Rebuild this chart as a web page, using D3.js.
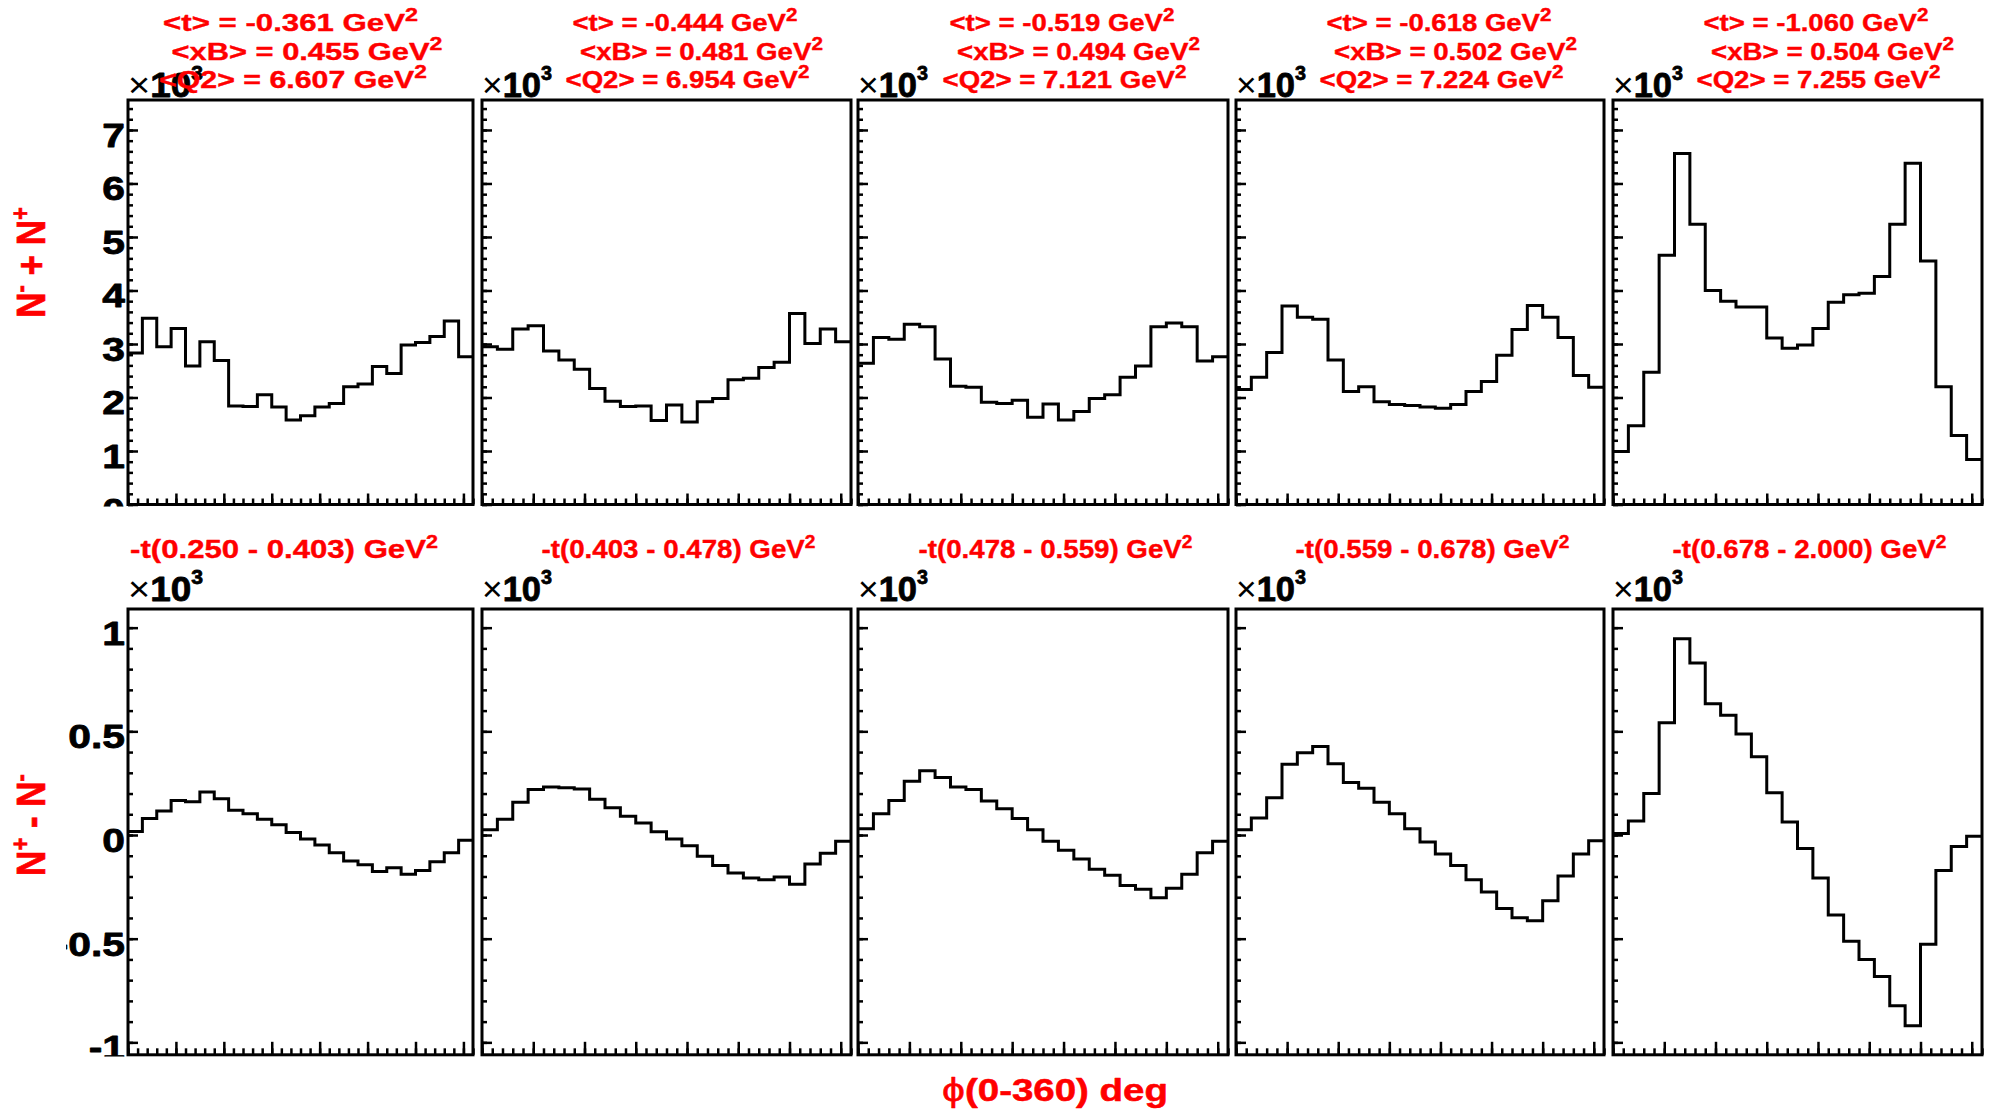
<!DOCTYPE html>
<html>
<head>
<meta charset="utf-8">
<script src="https://cdn.jsdelivr.net/npm/d3@7"></script>
<style>
  html, body { margin: 0; padding: 0; background: #fff; }
  svg { display: block; }
  text { font-family: "Liberation Sans", Arial, Helvetica, sans-serif; }
</style>
</head>
<body>
<svg id="chart" width="1990" height="1114"></svg>
<script>
// ---- data -----------------------------------------------------------------
// phi bins: lower edges in degrees, 24 bins of 15 deg over 0-360
const phiBinLow = [0, 15, 30, 45, 60, 75, 90, 105, 120, 135, 150, 165,
                   180, 195, 210, 225, 240, 255, 270, 285, 300, 315, 330, 345];
const phiMax = 360;

// per -t bin kinematics
const tMean  = [-0.361, -0.444, -0.519, -0.618, -1.060];
const xBMean = [0.455, 0.481, 0.494, 0.502, 0.504];
const q2Mean = [6.607, 6.954, 7.121, 7.224, 7.255];
const tLow   = [0.250, 0.403, 0.478, 0.559, 0.678];
const tHigh  = [0.403, 0.478, 0.559, 0.678, 2.000];

// N- + N+ per phi bin (x10^3), one array per -t bin
const sumCounts = [
  [2.83, 3.48, 2.95, 3.29, 2.59, 3.04, 2.69, 1.84, 1.83, 2.05, 1.82, 1.58,
   1.66, 1.82, 1.89, 2.20, 2.25, 2.58, 2.45, 2.98, 3.03, 3.14, 3.43, 2.76],
  [2.95, 2.90, 3.28, 3.34, 2.87, 2.70, 2.53, 2.17, 1.93, 1.83, 1.84, 1.57,
   1.86, 1.54, 1.92, 1.98, 2.33, 2.36, 2.56, 2.66, 3.57, 3.01, 3.28, 3.04],
  [2.64, 3.12, 3.09, 3.37, 3.32, 2.72, 2.21, 2.19, 1.91, 1.89, 1.95, 1.63,
   1.88, 1.58, 1.74, 1.98, 2.05, 2.38, 2.59, 3.32, 3.39, 3.32, 2.68, 2.76],
  [2.15, 2.38, 2.84, 3.71, 3.50, 3.46, 2.70, 2.11, 2.20, 1.92, 1.87, 1.85,
   1.82, 1.80, 1.87, 2.11, 2.30, 2.79, 3.27, 3.72, 3.50, 3.12, 2.41, 2.19],
  [0.99, 1.47, 2.47, 4.66, 6.56, 5.24, 4.00, 3.80, 3.69, 3.69, 3.11, 2.92,
   2.98, 3.29, 3.78, 3.92, 3.95, 4.26, 5.24, 6.38, 4.55, 2.20, 1.29, 0.84]
];

// N+ - N- per phi bin (x10^3), one array per -t bin
const diffCounts = [
  [0.017, 0.080, 0.116, 0.167, 0.160, 0.207, 0.175, 0.120, 0.102, 0.076, 0.049, 0.012,
   -0.019, -0.048, -0.085, -0.125, -0.143, -0.176, -0.158, -0.189, -0.171, -0.129, -0.085, -0.025],
  [0.025, 0.076, 0.158, 0.219, 0.232, 0.228, 0.222, 0.173, 0.131, 0.091, 0.058, 0.016,
   -0.019, -0.052, -0.103, -0.147, -0.183, -0.207, -0.216, -0.202, -0.238, -0.140, -0.088, -0.030],
  [0.030, 0.103, 0.167, 0.259, 0.310, 0.277, 0.232, 0.219, 0.164, 0.127, 0.080, 0.025,
   -0.030, -0.074, -0.116, -0.165, -0.194, -0.244, -0.262, -0.302, -0.257, -0.189, -0.085, -0.030],
  [0.025, 0.082, 0.180, 0.341, 0.397, 0.427, 0.344, 0.253, 0.226, 0.158, 0.103, 0.030,
   -0.034, -0.092, -0.147, -0.216, -0.275, -0.354, -0.399, -0.414, -0.317, -0.198, -0.092, -0.028],
  [0.007, 0.067, 0.200, 0.542, 0.947, 0.829, 0.633, 0.578, 0.487, 0.378, 0.204, 0.063,
   -0.065, -0.207, -0.386, -0.512, -0.600, -0.682, -0.823, -0.920, -0.527, -0.171, -0.055, -0.006]
];

// axis ranges and tick values
const sumRange  = [0, 7.56];
const diffRange = [-1.06, 1.09];
const sumTickMajor  = [0, 1, 2, 3, 4, 5, 6, 7];
const sumTickLabels = ["0", "1", "2", "3", "4", "5", "6", "7"];
const diffTickMajor  = [-1, -0.5, 0, 0.5, 1];
const diffTickLabels = ["-1", "-0.5", "0", "0.5", "1"];
const phiTickMajor = [0, 50, 100, 150, 200, 250, 300, 350];

// ---- layout ---------------------------------------------------------------
const RED = "#ff0000";
const svg = d3.select("#chart");

const frameX = [[128, 473], [482, 851], [858, 1228], [1236, 1604], [1613, 1982]];
const padX   = [[66, 478], [478, 855], [855, 1232], [1232, 1609], [1609, 1986]];

const rows = [
  { values: sumCounts, domain: sumRange, top: 100, bottom: 504.5,
    major: sumTickMajor, labels: sumTickLabels, minor: d3.range(0, 7.56, 0.2),
    xMajorLen: 11, xMinorLen: 6, clip: [0, 506.5], expLabelY: 97 },
  { values: diffCounts, domain: diffRange, top: 609, bottom: 1054.8,
    major: diffTickMajor, labels: diffTickLabels, minor: d3.range(-1, 1.05, 0.1),
    xMajorLen: 13, xMinorLen: 6.5, clip: [506.5, 1056.5], expLabelY: 601 }
];

// text helper: builds a text from parts and stretches it horizontally,
// either by a fixed factor or to a target width
function addText(parent, opt) {
  const t = parent.append("text")
    .attr("text-anchor", opt.anchor || "middle")
    .attr("font-size", opt.size)
    .attr("font-weight", opt.weight || "bold")
    .attr("fill", opt.fill || "#000");
  if (opt.heavy) {
    t.attr("stroke", opt.fill || "#000").attr("stroke-width", opt.heavy)
     .attr("stroke-linejoin", "round");
  }
  opt.parts.forEach(p => {
    const s = t.append("tspan").text(p.text);
    if (p.size) s.attr("font-size", p.size);
    if (p.dy) s.attr("dy", p.dy);
    if (p.weight) s.attr("font-weight", p.weight);
    if (p.stroke === false) s.attr("stroke", "none");
  });
  let k = opt.sx || 1;
  if (opt.width) {
    const w = t.node().getBBox().width;
    if (w > 0) k = opt.width / w;
  }
  t.attr("transform", `translate(${opt.x},${opt.y}) scale(${k},1)` + (opt.rotate ? ` rotate(${opt.rotate})` : ""));
  return t;
}

const defs = svg.append("defs");
defs.append("clipPath").attr("id", "clip-top")
  .append("rect").attr("x", 66).attr("y", rows[0].clip[0]).attr("width", 412).attr("height", rows[0].clip[1] - rows[0].clip[0]);
defs.append("clipPath").attr("id", "clip-bot")
  .append("rect").attr("x", 66).attr("y", rows[1].clip[0]).attr("width", 412).attr("height", rows[1].clip[1] - rows[1].clip[0]);

rows.forEach((row, r) => {
  row.values.forEach((vals, c) => {
    const [fx0, fx1] = frameX[c];
    const x = d3.scaleLinear().domain([0, phiMax]).range([fx0, fx1]);
    const y = d3.scaleLinear().domain(row.domain).range([row.bottom, row.top]);
    const g = svg.append("g");

    // histogram outline (steps, no drop to the baseline at the ends)
    const pts = vals.map((v, i) => [phiBinLow[i], v]);
    pts.push([phiMax, vals[vals.length - 1]]);
    g.append("path")
      .attr("d", d3.line().x(d => x(d[0])).y(d => y(d[1])).curve(d3.curveStepAfter)(pts))
      .attr("fill", "none").attr("stroke", "#000").attr("stroke-width", 3)
      .attr("stroke-linejoin", "miter");

    // ticks along the bottom axis (pointing inward)
    const tickStyle = sel => {
      sel.select(".domain").remove();
      sel.selectAll("line").attr("stroke", "#000").attr("stroke-width", 2.5);
    };
    g.append("g").attr("transform", `translate(0,${row.bottom})`)
      .call(d3.axisBottom(x).tickValues(d3.range(0, 361, 10)).tickSize(-row.xMinorLen).tickFormat(""))
      .call(tickStyle);
    g.append("g").attr("transform", `translate(0,${row.bottom})`)
      .call(d3.axisBottom(x).tickValues(phiTickMajor).tickSize(-row.xMajorLen).tickFormat(""))
      .call(tickStyle);

    // ticks along the left axis
    g.append("g").attr("transform", `translate(${fx0},0)`)
      .call(d3.axisLeft(y).tickValues(row.minor).tickSize(-5).tickFormat(""))
      .call(tickStyle);
    g.append("g").attr("transform", `translate(${fx0},0)`)
      .call(d3.axisLeft(y).tickValues(row.major).tickSize(-10).tickFormat(""))
      .call(tickStyle);

    // frame
    g.append("rect")
      .attr("x", fx0).attr("y", row.top)
      .attr("width", fx1 - fx0).attr("height", row.bottom - row.top)
      .attr("fill", "none").attr("stroke", "#000").attr("stroke-width", 3);

    // y labels only on the first column, clipped to the pad
    if (c === 0) {
      const lg = svg.append("g").attr("clip-path", `url(#${r === 0 ? "clip-top" : "clip-bot"})`);
      row.major.forEach((v, i) => {
        addText(lg, { x: fx0 - 3, y: y(v) + 17, anchor: "end", size: 34, sx: 1.2, heavy: 0.8,
                      parts: [{ text: row.labels[i] }] });
      });
    }

    // x10^3 exponent marker
    addText(svg, { x: fx0, y: row.expLabelY, anchor: "start", size: 35,
                   width: c === 0 ? 75 : 70, heavy: 0.8,
                   parts: [{ text: "\u00d7", weight: "normal", size: 36, stroke: false },
                           { text: "10" },
                           { text: "3", size: 20, dy: -17 }] });
  });
});

// titles above each column
const centers = padX.map(p => (p[0] + p[1]) / 2);
const topWidths = [[255, 271, 268], [225, 243, 244], [225, 243, 244], [225, 243, 244], [225, 243, 244]];
const topOffsets = [18.5, 35, 21];
const topBase = [31, 59.5, 88];
centers.forEach((cx, c) => {
  const lines = [
    `<t> = ${tMean[c].toFixed(3)} GeV`,
    `<xB> = ${xBMean[c].toFixed(3)} GeV`,
    `<Q2> = ${q2Mean[c].toFixed(3)} GeV`
  ];
  lines.forEach((s, i) => {
    addText(svg, { x: cx + topOffsets[i], y: topBase[i], size: 24, fill: RED,
                   width: topWidths[c][i], heavy: 0.4,
                   parts: [{ text: s }, { text: "2", size: 18, dy: -10 }] });
  });
  addText(svg, { x: cx + 12, y: 558, size: 26, fill: RED,
                 width: c === 0 ? 308 : 274, heavy: 0.4,
                 parts: [{ text: `-t(${tLow[c].toFixed(3)} - ${tHigh[c].toFixed(3)}) GeV` },
                         { text: "2", size: 18, dy: -10 }] });
});

// axis titles
addText(svg, { x: 1055, y: 1101, size: 31, fill: RED, width: 226, heavy: 0.5,
               parts: [{ text: "\u03d5", weight: "normal", size: 33 },
                       { text: "(0-360) deg" }] });

function yTitle(cy, parts) {
  const t = svg.append("text")
    .attr("text-anchor", "middle").attr("font-size", 35)
    .attr("font-weight", "bold").attr("fill", RED)
    .attr("stroke", RED).attr("stroke-width", 0.6)
    .attr("transform", `translate(45,${cy}) scale(1.16,1) rotate(-90)`);
  parts.forEach(p => {
    const s = t.append("tspan").text(p.text);
    if (p.size) s.attr("font-size", p.size);
    if (p.dy) s.attr("dy", p.dy);
  });
}
yTitle(262.5, [{ text: "N" }, { text: "-", size: 22, dy: -14 },
               { text: " + N", dy: 14 }, { text: "+", size: 22, dy: -14 }]);
yTitle(825, [{ text: "N" }, { text: "+", size: 22, dy: -14 },
             { text: " - N", dy: 14 }, { text: "-", size: 22, dy: -14 }]);
</script>
</body>
</html>
